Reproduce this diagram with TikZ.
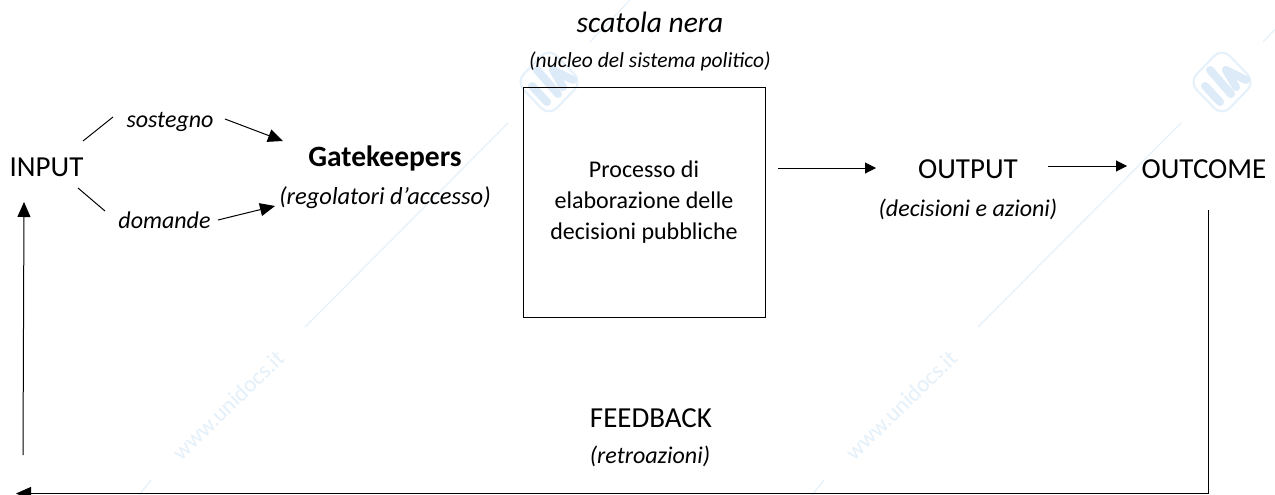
\documentclass[tikz,border=0pt]{standalone}
\usepackage{fontspec}
\setmainfont{Carlito}
\usetikzlibrary{arrows.meta}
\definecolor{wm}{HTML}{E4F0FA}
\definecolor{wmf}{HTML}{DCEBF7}
\tikzset{
  x=1pt,y=-1pt,
  lab/.style={anchor=base,inner sep=0pt,text=black},
  big/.style={lab,font=\fontsize{29}{32}\selectfont},
  mid/.style={lab,font=\fontsize{24}{28}\itshape\selectfont},
  plainline/.style={draw=black,line width=1pt},
  arr/.style={plainline,-{Triangle[length=15pt,width=13pt]}},
  arrs/.style={plainline,-{Triangle[length=11pt,width=11pt]}},
  wline/.style={draw=wm,line width=1.1pt},
  wtext/.style={inner sep=0pt,text=wm,rotate=44,font=\fontsize{23}{26}\selectfont},
  wlogo/.pic={
    \draw[wm,line width=2pt,rounded corners=11pt] (0,-34)--(33,0)--(0,34)--(-33,0)--cycle;
    \draw[wmf,line width=8pt,line cap=round] (-17,4)--(-2,20);
    \draw[wmf,line width=8pt,line cap=round] (-12,-12)--(9,12);
    \draw[wmf,line width=8pt,line cap=round] (4,-12)--(24,-2);
    \draw[wmf,line width=8pt,line cap=round] (4,-12)--(14,5);
  }
}
\begin{document}
\begin{tikzpicture}
\useasboundingbox (0,0) rectangle (1275,495);
\clip (0,0) rectangle (1275,495);
\fill[white] (0,0) rectangle (1275,495);
% watermark
\foreach \d in {0,673}{
  \begin{scope}[xshift=\d]
    \draw[wline] (139,495)--(151,480);
    \draw[wline] (305,327)--(508,123);
    \draw[wline] (590,42)--(630,0);
    \node[wtext] at (228,405) {www.unidocs.it};
    \pic at (549,82) {wlogo};
  \end{scope}
}
% texts
\node[big] (input) at (46.5,176) {INPUT};
\node[mid] (sost) at (170,127) {sostegno};
\node[mid] (dom) at (164.5,228) {domande};
\node[lab,font=\fontsize{29.5}{32}\bfseries\selectfont] (gate) at (385,166) {Gatekeepers};
\node[mid,font=\fontsize{24.5}{28}\itshape\selectfont] (reg) at (385,204) {(regolatori d’accesso)};
\node[lab,font=\fontsize{29.5}{32}\itshape\selectfont] (nera) at (650,33) {scatola nera};
\node[lab,font=\fontsize{21.5}{24}\itshape\selectfont] (nucleo) at (650,68) {(nucleo del sistema politico)};
\node[draw=black,line width=1pt,minimum width=242pt,minimum height=229pt,inner sep=0pt,align=center,
      font=\fontsize{24}{31}\selectfont] (box) at (644,202.5) {Processo di\\elaborazione delle\\decisioni pubbliche};
\node[big] (output) at (968,178) {OUTPUT};
\node[mid] (dec) at (968,216) {(decisioni e azioni)};
\node[big] (outcome) at (1204,178) {OUTCOME};
\node[big] (fb) at (651,427) {FEEDBACK};
\node[mid] (retro) at (650,463) {(retroazioni)};
% connector ends
\coordinate (a1) at (83,141);  \coordinate (a2) at (113,117);
\coordinate (b1) at (78,188);  \coordinate (b2) at (105,211);
\coordinate (c1) at (225,119); \coordinate (c2) at (283,141);
\coordinate (d1) at (218,220); \coordinate (d2) at (275,206);
\coordinate (e1) at (778,168); \coordinate (e2) at (876,168);
\coordinate (f1) at (1048,166);\coordinate (f2) at (1127,166);
\coordinate (g1) at (1208,210);\coordinate (g2) at (1208,493.5);\coordinate (g3) at (16,493.5);
\coordinate (h1) at (23,455);  \coordinate (h2) at (24,202);
% connectors
\draw[plainline] (a1)--(a2);
\draw[plainline] (b1)--(b2);
\draw[arr] (c1)--(c2);
\draw[arr] (d1)--(d2);
\draw[arrs] (e1)--(e2);
\draw[arrs] (f1)--(f2);
\draw[arr] (g1)--(g2)--(g3);
\draw[arr] (h1)--(h2);
\end{tikzpicture}
\end{document}
